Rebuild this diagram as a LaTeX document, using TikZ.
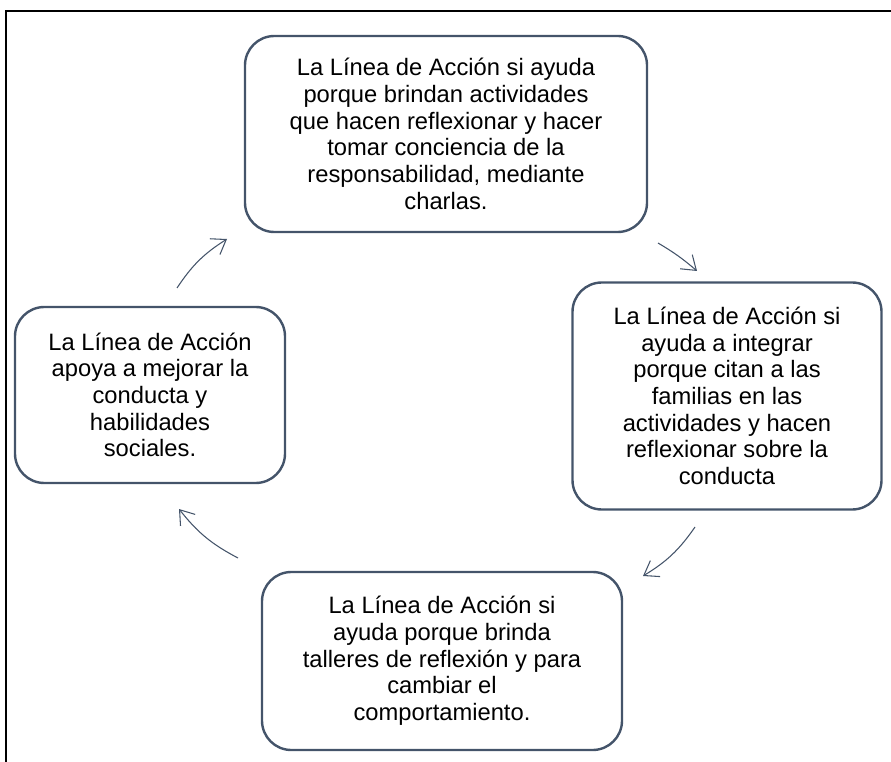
\documentclass[tikz,border=0pt]{standalone}
\usepackage{fontspec}
\setmainfont{Liberation Sans}
\usetikzlibrary{arrows.meta}
\definecolor{slateblue}{RGB}{68, 84, 106}

\begin{document}
\begin{tikzpicture}[x=0.75pt, y=-0.75pt,
  box/.style={draw=slateblue, line width=1.8pt, rounded corners=22pt, align=center,
    inner sep=0pt, font=\fontsize{17.8}{20}\selectfont},
  cyc/.style={slateblue, line width=0.8pt, -{Straight Barb[length=10pt, width=14pt]}, bend left=12}]

  \useasboundingbox (0,0) rectangle (891,762);

  \draw[]
   (446,134) node[box, minimum width=402*0.75pt, minimum height=196*0.75pt] (1)
     {La Línea de Acción si ayuda\\porque brindan actividades\\que hacen reflexionar y hacer\\tomar conciencia de la\\responsabilidad, mediante\\charlas.}
   (727,396) node[box, minimum width=309*0.75pt, minimum height=227*0.75pt] (2)
     {La Línea de Acción si\\ayuda a integrar\\porque citan a las\\familias en las\\actividades y hacen\\reflexionar sobre la\\conducta}
   (442,661) node[box, minimum width=360*0.75pt, minimum height=178*0.75pt] (3)
     {La Línea de Acción si\\ayuda porque brinda\\talleres de reflexión y para\\cambiar el\\comportamiento.}
   (150,395) node[box, minimum width=270*0.75pt, minimum height=176*0.75pt] (4)
     {La Línea de Acción\\apoya a mejorar la\\conducta y\\habilidades\\sociales.};

  %Cycle arrows
  \coordinate (a1) at (177,288); \coordinate (b1) at (227,239);
  \coordinate (a2) at (658,243); \coordinate (b2) at (697,271);
  \coordinate (a3) at (695,527); \coordinate (b3) at (643,576);
  \coordinate (a4) at (238,558); \coordinate (b4) at (179,509);
  \draw[cyc] (a1) to (b1);
  \draw[cyc, bend left=5] (a2) to (b2);
  \draw[cyc] (a3) to (b3);
  \draw[cyc] (a4) to (b4);

  %Frame
  \coordinate (f0) at (6,11);
  \draw[line width=2.2pt] (6,762) -- (f0) -- (891,11);
\end{tikzpicture}
\end{document}
